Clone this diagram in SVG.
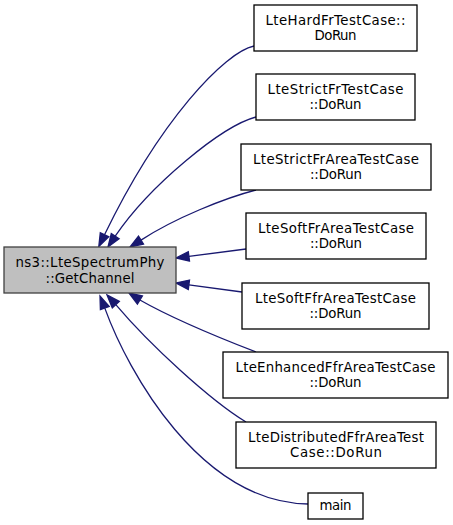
<svg xmlns="http://www.w3.org/2000/svg" width="453" height="525" viewBox="0 0 453 525">
<style>
.n rect{fill:#ffffff;stroke:#000000;stroke-width:1.3}
.n.m rect{fill:#bfbfbf;stroke:#404040}
.n text{font-family:"DejaVu Sans",sans-serif;font-size:13.33px;text-anchor:middle;fill:#000000}
.e path{fill:none;stroke:#191970;stroke-width:1.3}
.e polygon{fill:#191970;stroke:#191970;stroke-width:1.3}
</style>
<rect x="0" y="0" width="453" height="525" fill="#ffffff"/>
<g id="edges" class="e">
<path d="M254,46 C225,52 160,120 104.5,234.8"/>
<polygon points="108.7,236.8 98.8,246.5 100.3,232.8"/>
<path d="M256,117 C222,126 150,185 115.2,236.2"/>
<polygon points="119.1,238.8 108,247 111.3,233.6"/>
<path d="M256,190 C225,198 175,218 141,240.1"/>
<polygon points="143.5,244.1 130,247 138.5,236.1"/>
<path d="M246,249 L188.9,256.4"/>
<polygon points="189.5,261 176,258 188.3,251.7"/>
<path d="M242,292 L188.9,284.8"/>
<polygon points="189.5,280.1 176,283 188.3,289.4"/>
<path d="M256,352 C225,340 175,320 139.9,300"/>
<polygon points="142.4,296 129,293 137.4,304"/>
<path d="M246,422 C210,400 150,345 115.8,304.6"/>
<polygon points="119.3,301.4 107,295 112.3,307.8"/>
<path d="M308,504 C200,502 128,372 104.8,308.1"/>
<polygon points="109.2,306.5 100,296 100.4,309.7"/>
</g>
<g id="node_main" class="n m">
<rect x="4" y="247" width="172" height="46"/>
<text x="90" y="267" textLength="149" lengthAdjust="spacing">ns3::LteSpectrumPhy</text>
<text x="90" y="282.5" textLength="89" lengthAdjust="spacing">::GetChannel</text>
</g>
<g id="node_hardfr" class="n">
<rect x="254" y="5" width="163" height="46"/>
<text x="335.5" y="24.5" textLength="140" lengthAdjust="spacing">LteHardFrTestCase::</text>
<text x="335.5" y="40" textLength="42" lengthAdjust="spacing">DoRun</text>
</g>
<g id="node_strictfr" class="n">
<rect x="256" y="74" width="159" height="46"/>
<text x="335.5" y="93.5" textLength="136" lengthAdjust="spacing">LteStrictFrTestCase</text>
<text x="335.5" y="109" textLength="52" lengthAdjust="spacing">::DoRun</text>
</g>
<g id="node_strictfrarea" class="n">
<rect x="241" y="144" width="190" height="46"/>
<text x="336" y="163.5" textLength="166" lengthAdjust="spacing">LteStrictFrAreaTestCase</text>
<text x="336" y="179" textLength="52" lengthAdjust="spacing">::DoRun</text>
</g>
<g id="node_softfrarea" class="n">
<rect x="246" y="213" width="180" height="46"/>
<text x="336" y="232.5" textLength="156" lengthAdjust="spacing">LteSoftFrAreaTestCase</text>
<text x="336" y="248" textLength="52" lengthAdjust="spacing">::DoRun</text>
</g>
<g id="node_softffrarea" class="n">
<rect x="242" y="283" width="187" height="46"/>
<text x="335.5" y="302.5" textLength="161" lengthAdjust="spacing">LteSoftFfrAreaTestCase</text>
<text x="335.5" y="318" textLength="52" lengthAdjust="spacing">::DoRun</text>
</g>
<g id="node_enhancedffrarea" class="n">
<rect x="223" y="352" width="225" height="46"/>
<text x="335.5" y="371.5" textLength="200" lengthAdjust="spacing">LteEnhancedFfrAreaTestCase</text>
<text x="335.5" y="387" textLength="52" lengthAdjust="spacing">::DoRun</text>
</g>
<g id="node_distributedffrarea" class="n">
<rect x="236" y="422" width="200" height="46"/>
<text x="336" y="441.5" textLength="176" lengthAdjust="spacing">LteDistributedFfrAreaTest</text>
<text x="336" y="457" textLength="92" lengthAdjust="spacing">Case::DoRun</text>
</g>
<g id="node_mainfn" class="n">
<rect x="308" y="493" width="55" height="26"/>
<text x="335.5" y="510" textLength="32" lengthAdjust="spacing">main</text>
</g>
</svg>
